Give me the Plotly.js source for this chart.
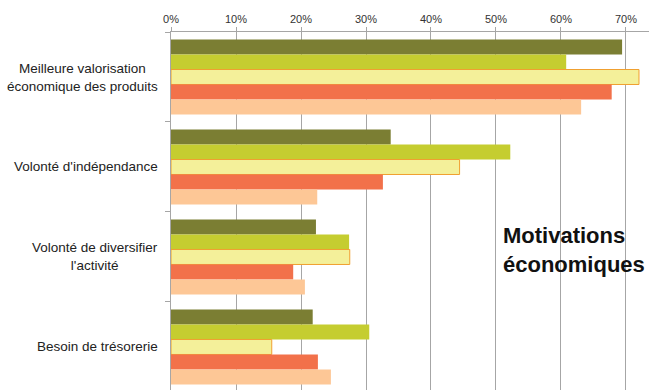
<!DOCTYPE html>
<html><head><meta charset="utf-8">
<script src="https://cdn.plot.ly/plotly-3.0.1.min.js"></script>
<style>html,body{margin:0;padding:0;background:#fff}#chart{width:649px;height:390px}</style>
</head><body><div id="chart"></div>
<script>
const categories = ["Meilleure valorisation<br>économique des produits", "Volonté d'indépendance", "Volonté de diversifier<br>l'activité", "Besoin de trésorerie"];
const catKeys = ["c1", "c2", "c3", "c4"];
const series1 = [0.694, 0.338, 0.223, 0.218];
const series2 = [0.608, 0.522, 0.274, 0.305];
const series3 = [0.720, 0.444, 0.275, 0.155];
const series4 = [0.678, 0.326, 0.188, 0.226];
const series5 = [0.631, 0.225, 0.206, 0.246];
const tickVals = [0, 0.1, 0.2, 0.3, 0.4, 0.5, 0.6, 0.7];
const titleText = "Motivations<br>économiques";

const colors = ["#7B7E33", "#C5CD30", "#F4F09A", "#F2714A", "#FDC796"];
const allSeries = [series1, series2, series3, series4, series5];
const traces = allSeries.map((s, i) => ({
  type: "bar", orientation: "h", x: s, y: catKeys,
  marker: {color: colors[i], line: {color: i === 2 ? "#F0A030" : colors[i], width: i === 2 ? 1 : 0}},
  hoverinfo: "skip", showlegend: false
}));

const annotations = categories.map((c, i) => ({
  xref: "paper", yref: "y", x: 0, xshift: -11, y: catKeys[i], xanchor: "right", yanchor: "middle",
  text: c, align: "center", showarrow: false,
  font: {family: "Liberation Sans, Arial, sans-serif", size: 13.5, color: "#222"}
}));
annotations.push({
  xref: "paper", yref: "paper", x: 0.69, y: 0.39, xanchor: "left", yanchor: "middle",
  text: "<b>" + titleText + "</b>", align: "left", showarrow: false,
  font: {family: "Liberation Sans, Arial, sans-serif", size: 22, color: "#111"}
});

const layout = {
  width: 649, height: 390,
  margin: {l: 171, r: 0, t: 32, b: 0},
  paper_bgcolor: "#fff", plot_bgcolor: "#fff",
  barmode: "group", bargap: 0.167, bargroupgap: 0,
  xaxis: {
    side: "top", range: [0, 0.7354], tickvals: tickVals, tickformat: ".0%",
    showgrid: true, gridcolor: "#A6A6A6", gridwidth: 1, zeroline: false,
    showline: true, linecolor: "#A6A6A6", linewidth: 1,
    ticks: "outside", ticklen: 4, tickcolor: "#A6A6A6",
    tickfont: {family: "Liberation Sans, Arial, sans-serif", size: 11, color: "#333"}
  },
  yaxis: {
    type: "category", range: [3.478, -0.5], showticklabels: false,
    showline: true, linecolor: "#A6A6A6", linewidth: 1,
    ticks: "outside", ticklen: 5, tickcolor: "#A6A6A6", tickson: "boundaries",
    showgrid: false, zeroline: false
  },
  shapes: [{type: "rect", xref: "paper", yref: "paper", x0: 0.688, x1: 1, y0: 0.246, y1: 0.469,
    fillcolor: "#fff", line: {width: 0}, layer: "between"}],
  annotations: annotations
};
Plotly.newPlot("chart", traces, layout, {displayModeBar: false, staticPlot: true});
</script></body></html>
